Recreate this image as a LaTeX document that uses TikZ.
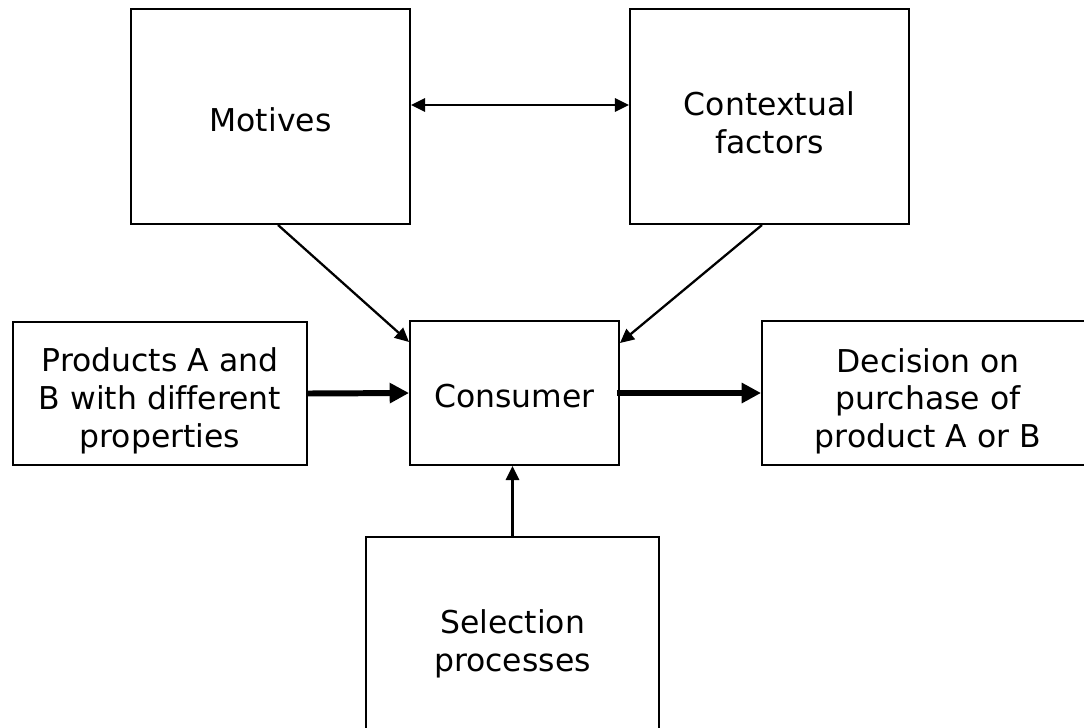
\documentclass[tikz,border=0pt]{standalone}
\usepackage{fontspec}
\setmainfont[Ligatures=CommonOff]{DejaVu Sans}
\usetikzlibrary{arrows.meta}

\begin{document}
\begin{tikzpicture}[every text node part/.style={align=center},
  box/.style={draw, line width=1.1pt, inner sep=0pt, font=\fontsize{17.9}{21.5}\selectfont},
  thin/.style={line width=1.3pt, -{Triangle[length=8pt,width=7.5pt]}},
  thick/.style={line width=3.4pt, -{Triangle[length=11pt,width=11pt]}}]

\useasboundingbox (0,0) rectangle (21.68,-14.54);
\clip (0,0) rectangle (21.68,-14.54);

% the \rule struts push the text a little below the middle of each box
\node[box, minimum width=5.58cm, minimum height=4.30cm](motives) at (5.41,-2.33){\rule{0pt}{17pt}Motives};
\node[box, minimum width=5.58cm, minimum height=4.30cm](context) at (15.39,-2.33){\rule{0pt}{21pt}Contextual\\factors};
\node[box, minimum width=5.88cm, minimum height=2.86cm](products) at (3.20,-7.87){\rule{0pt}{22pt}Products A and\\B with different\\properties};
\node[box, minimum width=4.18cm, minimum height=2.88cm](consumer) at (10.29,-7.86){\rule{0pt}{17pt}Consumer};
\node[box, minimum width=6.64cm, minimum height=2.88cm](decision) at (18.56,-7.86){\rule{0pt}{23pt}Decision on\\purchase of\\product A or B};
\node[box, minimum width=5.86cm, minimum height=4.28cm](select) at (10.25,-12.88){Selection\\processes};

\draw[thin, {Triangle[length=8pt,width=7.5pt]}-{Triangle[length=8pt,width=7.5pt]}]([yshift=0.23cm]motives.east)--([yshift=0.23cm]context.west);
\draw[thin]([xshift=0.15cm]motives.south)--([yshift=1.02cm]consumer.west);
\draw[thin]([xshift=-0.15cm]context.south)--([yshift=1.0cm]consumer.east);
\draw[thin](select.north)--(select.north |- consumer.south);

\draw[thick](products.east)--(consumer.west);
\draw[thick]([xshift=-0.06cm]consumer.east)--(decision.west);

\end{tikzpicture}
\end{document}
